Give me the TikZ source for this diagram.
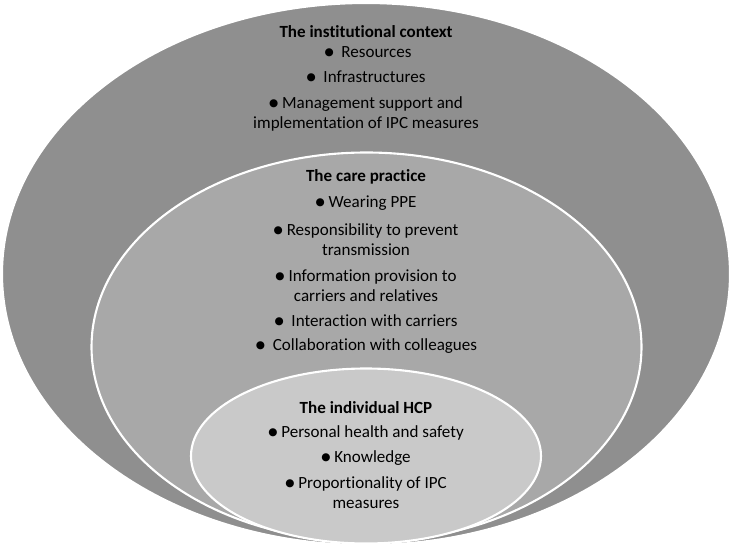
\documentclass[tikz,border=0pt]{standalone}
\usepackage{fontspec}
\setmainfont{Carlito}[Ligatures=NoCommon]
\newfontfamily\symfont{DejaVu Sans}
\usepackage{xcolor}
\usepackage{tikz}
\usetikzlibrary{shapes.geometric}
\definecolor{outergray}{RGB}{143,143,143}
\definecolor{middlegray}{RGB}{168,168,168}
\definecolor{innergray}{RGB}{201,201,201}
\newcommand{\dotitem}{\raisebox{1.1pt}{\symfont\fontsize{6}{6}\selectfont ●}\ }

\begin{document}
\begin{tikzpicture}[
    layer/.style={draw=white, line width=1.2pt, ellipse, inner sep=0pt},
    txt/.style={align=center, inner sep=0pt, font=\fontsize{9.7}{11.4}\selectfont}
  ]
    \useasboundingbox (0,0) rectangle (14.66,10.96);

    % Institutional context
    \node[layer, fill=outergray, minimum width=14.56cm, minimum height=10.84cm] (outer) at (7.32, 5.48) {};
    % Care practice
    \node[layer, fill=middlegray, minimum width=11cm, minimum height=7.78cm] (middle) at (7.33, 4.02) {};
    % Individual HCP
    \node[layer, fill=innergray, minimum width=7cm, minimum height=3.5cm] (inner) at (7.32, 1.84) {};

    % Outer texts
    \node[txt] (ctxtitle) at (7.32, 10.32) {\textbf{The institutional context}};
    \node[txt] (resources) at (7.36, 9.92) {\dotitem\ Resources};
    \node[txt] (infra) at (7.32, 9.42) {\dotitem\ Infrastructures};
    \node[txt] (mgmt) at (7.32, 8.68) {\dotitem Management support and\\implementation of IPC measures};

    % Middle texts
    \node[txt] (caretitle) at (7.32, 7.42) {\textbf{The care practice}};
    \node[txt] (ppe) at (7.32, 6.90) {\dotitem Wearing PPE};
    \node[txt] (resp) at (7.32, 6.16) {\dotitem Responsibility to prevent\\transmission};
    \node[txt] (info) at (7.32, 5.25) {\dotitem Information provision to\\carriers and relatives};
    \node[txt] (interact) at (7.32, 4.54) {\dotitem\ Interaction with carriers};
    \node[txt] (collab) at (7.33, 4.04) {\dotitem\ Collaboration with colleagues};

    % Inner texts
    \node[txt] (hcptitle) at (7.32, 2.80) {\textbf{The individual HCP}};
    \node[txt] (health) at (7.32, 2.30) {\dotitem Personal health and safety};
    \node[txt] (know) at (7.32, 1.80) {\dotitem Knowledge};
    \node[txt] (prop) at (7.32, 1.10) {\dotitem Proportionality of IPC\\measures};

\end{tikzpicture}
\end{document}
